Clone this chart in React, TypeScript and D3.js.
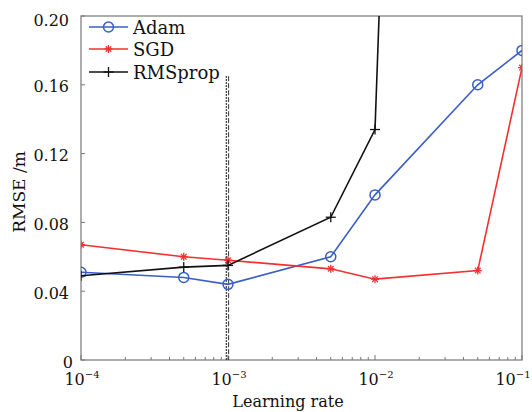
import React from "react";
import * as d3 from "d3";

const learningRates = [1e-4, 5e-4, 1e-3, 5e-3, 1e-2, 5e-2, 1e-1];
const adamValues = [0.051, 0.048, 0.044, 0.06, 0.096, 0.16, 0.18];
const sgdValues = [0.067, 0.06, 0.058, 0.053, 0.047, 0.052, 0.17];
const rmspropValues = [0.049, 0.054, 0.055, 0.083, 0.134, 1.8, 2.6];
const yTicks = [0, 0.04, 0.08, 0.12, 0.16, 0.2];
const xTicks = [1e-4, 1e-3, 1e-2, 1e-1];
const xTickExps = ["-4", "-3", "-2", "-1"];
const seriesNames = ["Adam", "SGD", "RMSprop"];
const vLineX = [0.000975, 0.00101];
const vLineTop = 0.165;

const W = 532, H = 412;
const L = 81, R = 522, T = 16, B = 360;
const BLUE = "#3a5ec4", RED = "#f23030", BLACK = "#111";
const FONT = "'DejaVu Serif', 'Liberation Serif', serif";

export default function App() {
  const x = d3.scaleLog().domain([1e-4, 1e-1]).range([L, R]);
  const y = d3.scaleLinear().domain([0, 0.2]).range([B, T]);
  const line = d3.line<number>().x((_, i) => x(learningRates[i])).y((v) => y(v));
  const minor: number[] = [];
  for (let e = -4; e < -1; e++) for (let m = 2; m <= 9; m++) minor.push(m * Math.pow(10, e));

  const circle = (cx: number, cy: number, k: string) => (
    <circle key={k} cx={cx} cy={cy} r={5} fill="none" stroke={BLUE} strokeWidth={1.5} />
  );
  const star = (cx: number, cy: number, k: string) => {
    const s = 4;
    return (
      <g key={k} stroke={RED} strokeWidth={1.3}>
        <line x1={cx - s} y1={cy} x2={cx + s} y2={cy} />
        <line x1={cx} y1={cy - s} x2={cx} y2={cy + s} />
        <line x1={cx - s * 0.7} y1={cy - s * 0.7} x2={cx + s * 0.7} y2={cy + s * 0.7} />
        <line x1={cx - s * 0.7} y1={cy + s * 0.7} x2={cx + s * 0.7} y2={cy - s * 0.7} />
      </g>
    );
  };
  const plus = (cx: number, cy: number, k: string) => {
    const s = 5;
    return (
      <g key={k} stroke={BLACK} strokeWidth={1.3}>
        <line x1={cx - s} y1={cy} x2={cx + s} y2={cy} />
        <line x1={cx} y1={cy - s} x2={cx} y2={cy + s} />
      </g>
    );
  };

  const legendY = [27, 49, 72];
  const colors = [BLUE, RED, BLACK];
  const markers = [circle, star, plus];

  return (
    <svg width={W} height={H} style={{ position: "absolute", left: 0, top: 0, background: "#fff" }} fontFamily={FONT}>
      <defs>
        <clipPath id="plot">
          <rect x={L} y={T} width={R - L} height={B - T} />
        </clipPath>
      </defs>
      <rect x={L} y={T} width={R - L} height={B - T} fill="none" stroke="#777" strokeWidth={1.2} />
      {yTicks.map((t, i) => (
        <g key={"y" + t}>
          <line x1={L} x2={L + 4} y1={y(t)} y2={y(t)} stroke="#777" />
          <text x={t === 0 ? 73 : L - 12} y={y(t) + (i === yTicks.length - 1 ? 10 : 7.5)} textAnchor="end" fontSize={16} fill="#111">
            {t === 0 ? "0" : t.toFixed(2)}
          </text>
        </g>
      ))}
      {minor.map((t, i) => (
        <line key={"m" + i} x1={x(t)} x2={x(t)} y1={B} y2={B - 3} stroke="#777" />
      ))}
      {xTicks.map((t, i) => (
        <g key={"x" + t}>
          <line x1={x(t)} x2={x(t)} y1={B} y2={B - 5} stroke="#777" />
          <text x={i === xTicks.length - 1 ? x(t) - 9 : x(t) + 1} y={385} textAnchor="middle" fontSize={16} fill="#111">
            10<tspan dy={-7} fontSize={10}>{"\u2212" + xTickExps[i].slice(1)}</tspan>
          </text>
        </g>
      ))}
      <text x={288} y={407} textAnchor="middle" fontSize={16} fill="#111">Learning rate</text>
      <text transform={`translate(25,${(T + B) / 2 + 4}) rotate(-90)`} textAnchor="middle" fontSize={17} fill="#111">
        RMSE /m
      </text>
      <line x1={x(vLineX[0])} x2={x(vLineX[0])} y1={y(vLineTop)} y2={B} stroke="#111" strokeWidth={1.4} strokeDasharray="1.5,1.5" />
      <line x1={x(vLineX[1])} x2={x(vLineX[1])} y1={y(vLineTop)} y2={B} stroke="#333" strokeWidth={1} strokeDasharray="5,2" />
      <g clipPath="url(#plot)">
        <path d={line(adamValues) || ""} fill="none" stroke={BLUE} strokeWidth={1.6} />
        <path d={line(sgdValues) || ""} fill="none" stroke={RED} strokeWidth={1.6} />
        <path d={line(rmspropValues) || ""} fill="none" stroke={BLACK} strokeWidth={1.6} />
        {adamValues.map((v, i) => circle(x(learningRates[i]), y(v), "a" + i))}
        {sgdValues.map((v, i) => star(x(learningRates[i]), y(v), "s" + i))}
        {rmspropValues.map((v, i) => plus(x(learningRates[i]), y(v), "r" + i))}
      </g>
      {seriesNames.map((n, i) => (
        <g key={n}>
          <line x1={89} x2={128} y1={legendY[i]} y2={legendY[i]} stroke={colors[i]} strokeWidth={1.6} />
          {markers[i](108.5, legendY[i], "lm" + i)}
          <text x={133} y={legendY[i] + 6.5} fontSize={18} fill="#111">{n}</text>
        </g>
      ))}
    </svg>
  );
}
